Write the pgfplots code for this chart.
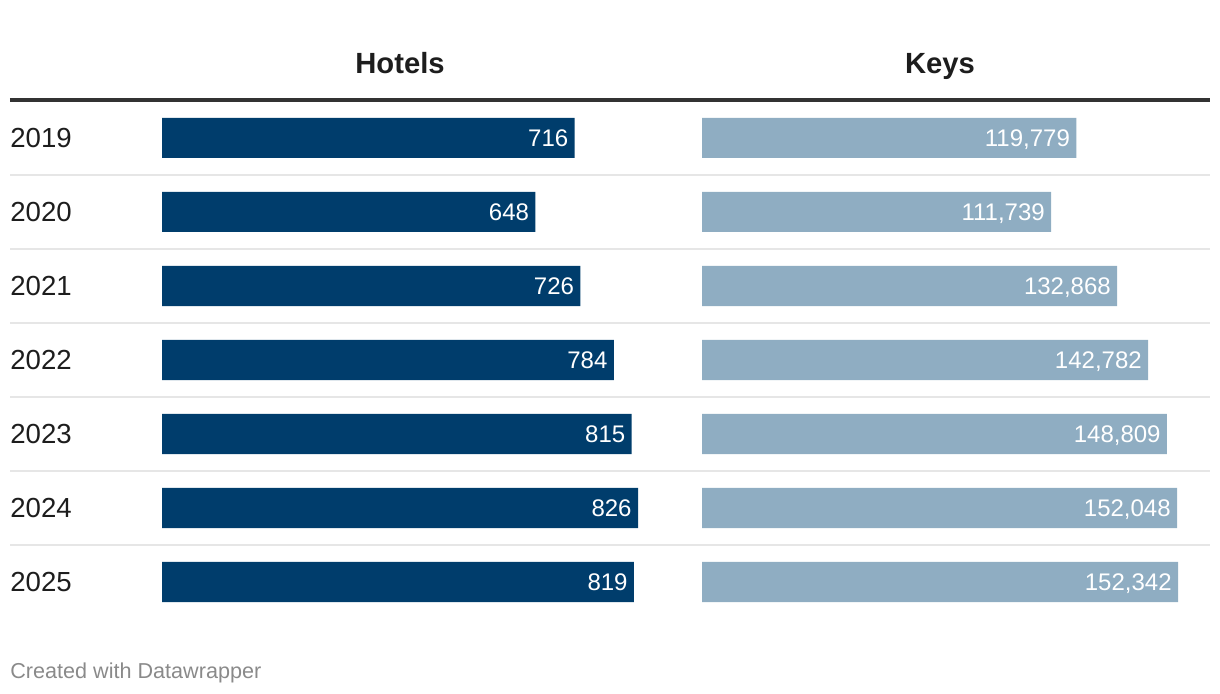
\documentclass[border=0pt]{standalone}
\usepackage{fontspec}
\setmainfont{Liberation Sans}
\usepackage{pgfplots}
\pgfplotsset{compat=1.18}

\definecolor{hotelblue}{HTML}{003D6C}
\definecolor{keyblue}{HTML}{8FADC2}
\definecolor{gridgray}{HTML}{E6E6E6}
\definecolor{rulegray}{HTML}{333333}
\definecolor{txt}{HTML}{1D1D1D}
\definecolor{foot}{HTML}{8A8A8A}

% 1 px of the reference = 0.5pt
\pgfplotsset{
  rows/.style={
    scale only axis,
    height=259pt,
    ymin=-0.5, ymax=6.5,
    y dir=reverse,
    enlargelimits=false,
  },
  barcol/.style={
    rows,
    width=238pt,
    xmin=0,
    xbar, bar width=20pt, bar shift=0pt,
    axis line style={draw=none},
    xtick=\empty, ytick=\empty,
    point meta=explicit symbolic,
    nodes near coords={\pgfplotspointmeta},
    nodes near coords style={anchor=east, text=white, inner sep=3pt,
      text depth=0pt, font=\fontsize{12}{14}\selectfont},
  },
}

\begin{document}
\begin{tikzpicture}
\path[use as bounding box] (0,0) rectangle (610pt,347pt);

% background: row separators, top rule, year labels
\begin{axis}[
  rows,
  at={(5pt,37.5pt)}, anchor=south west,
  width=600pt,
  xmin=0, xmax=1,
  axis line style={draw=none},
  xtick=\empty,
  ytick={0,1,2,3,4,5,6},
  yticklabels={2019,2020,2021,2022,2023,2024,2025},
  major tick length=0pt,
  yticklabel style={anchor=west, inner sep=0pt, text=txt,
    font=\fontsize{13.8}{16}\selectfont},
  extra y ticks={0.5,1.5,2.5,3.5,4.5,5.5},
  extra y tick labels={},
  extra y tick style={grid=major, major grid style={gridgray, line width=1pt}},
  clip=false,
]
\draw[rulegray, line width=2pt] (axis cs:0,-0.52) -- (axis cs:1,-0.52);
\end{axis}

\begin{axis}[
  barcol,
  at={(81pt,37.5pt)}, anchor=south west,
  xmax=826,
]
\addplot[draw=none, fill=hotelblue] coordinates {
  (716,0) [716] (648,1) [648] (726,2) [726] (784,3) [784]
  (815,4) [815] (826,5) [826] (819,6) [819]
};
\end{axis}

\begin{axis}[
  barcol,
  at={(351pt,37.5pt)}, anchor=south west,
  xmax=152342,
]
\addplot[draw=none, fill=keyblue] coordinates {
  (119779,0) [119{,}779] (111739,1) [111{,}739] (132868,2) [132{,}868]
  (142782,3) [142{,}782] (148809,4) [148{,}809] (152048,5) [152{,}048]
  (152342,6) [152{,}342]
};
\end{axis}

% column headers
\node[anchor=base, inner sep=0pt, text=txt, font=\bfseries\fontsize{14.6}{16}\selectfont]
  at (200pt,310pt) {Hotels};
\node[anchor=base, inner sep=0pt, text=txt, font=\bfseries\fontsize{14.6}{16}\selectfont]
  at (470pt,310pt) {Keys};

\node[anchor=west, inner sep=0pt, text=foot, font=\fontsize{10.8}{12}\selectfont]
  at (5pt,10.5pt) {Created with Datawrapper};
\end{tikzpicture}
\end{document}
